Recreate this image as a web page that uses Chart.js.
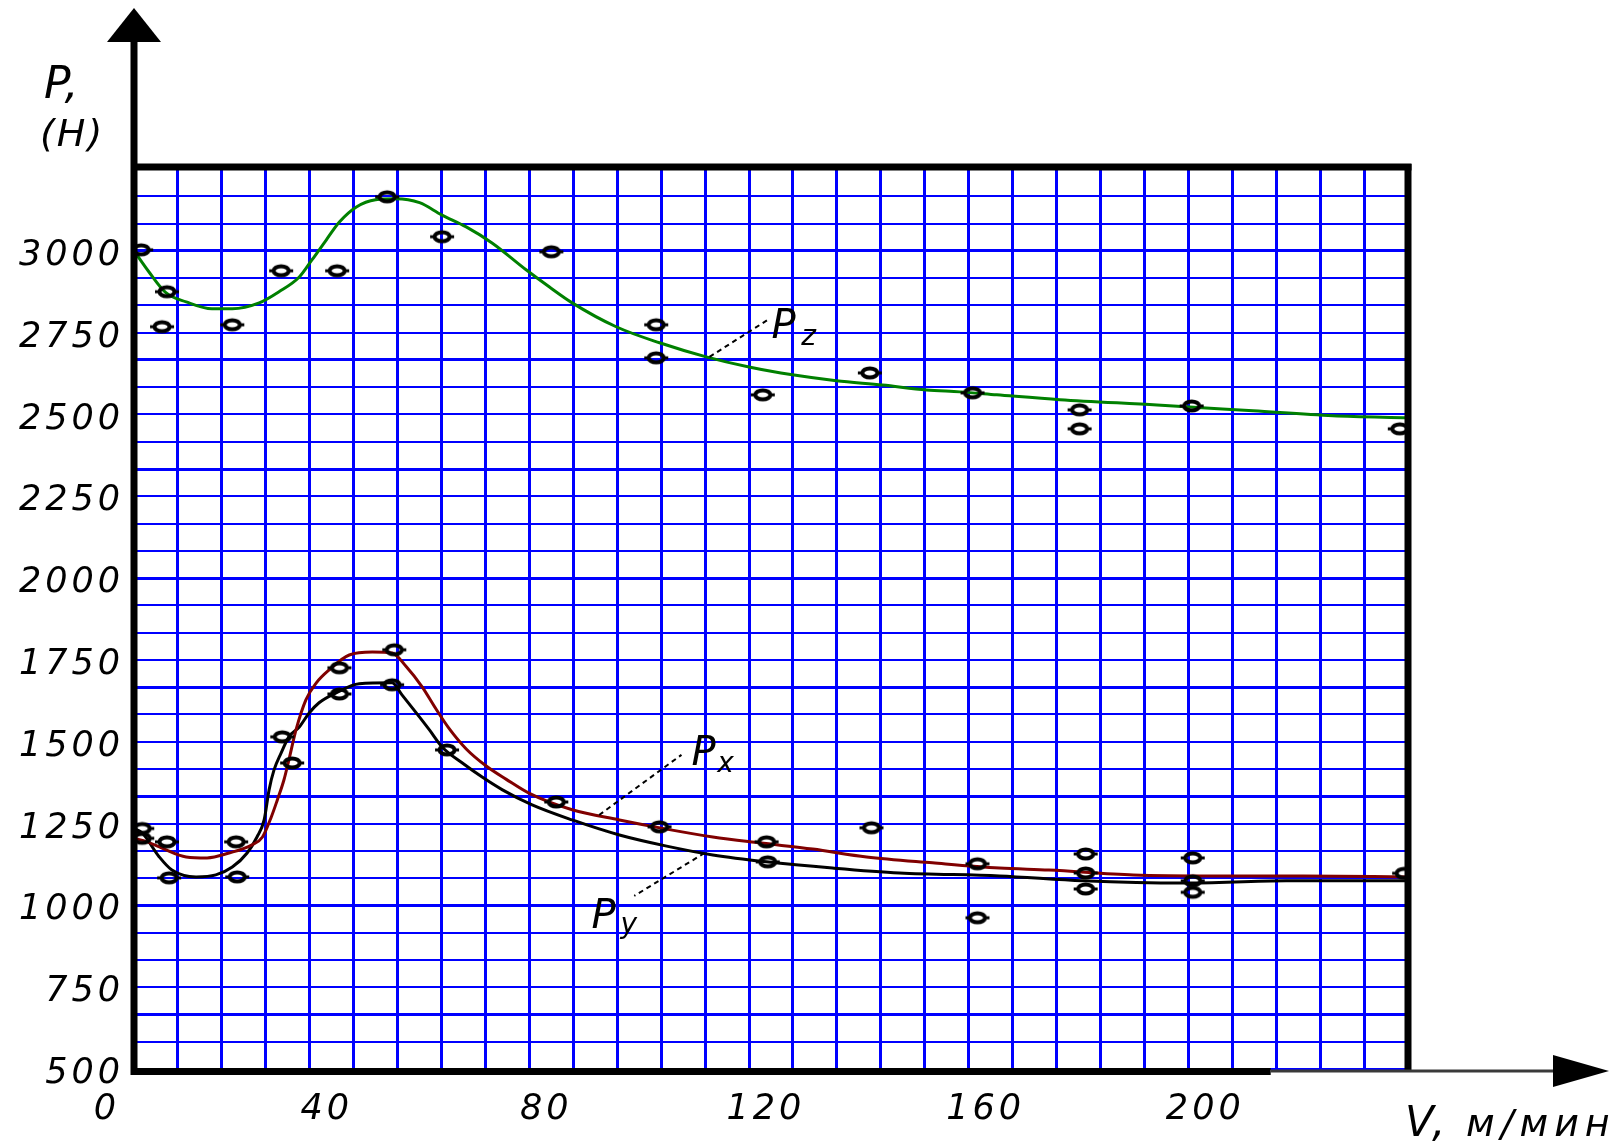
<!DOCTYPE html>
<html>
<head>
<meta charset="utf-8">
<script src="https://cdn.jsdelivr.net/npm/chart.js@4.4.0/dist/chart.umd.min.js"></script>
<style>
html, body { margin: 0; padding: 0; background: #fff; }
#wrap { width: 1622px; height: 1144px; position: relative; }
</style>
</head>
<body>
<div id="wrap"><canvas id="grafik"></canvas></div>
<script>
// Pz (зелёная кривая): скорость V, м/мин и сила, Н
const vPz = [0, 2.7, 5.8, 9.5, 14.2, 17.9, 22.8, 26.4, 30.1, 32.4, 35, 37.4, 40.5, 44, 47.7, 52, 56, 60.5, 65.2, 71.4, 75.6, 79.8, 87.8, 95.7, 104.2, 112, 119.9, 127.9, 136.3, 144.3, 150.4, 157.1, 168.6, 186.3, 203.8, 218.3, 232];
const pPz = [3000, 2936, 2872, 2844, 2823, 2823, 2841, 2875, 2920, 2972, 3033, 3088, 3134, 3156, 3159, 3147, 3110, 3073, 3024, 2942, 2890, 2841, 2768, 2719, 2676, 2645, 2621, 2603, 2590, 2575, 2569, 2560, 2545, 2529, 2511, 2496, 2490];

// Px (тёмно-красная кривая)
const vPx = [0, 2.4, 5.1, 9.5, 13.3, 17.3, 21.5, 23.4, 25, 26.1, 27.3, 28.2, 29.5, 31.3, 33.2, 35.5, 39.2, 43.4, 47, 49.6, 52.5, 55, 57.4, 60.5, 64.2, 67.8, 72, 79.8, 88.4, 97, 105.4, 113.9, 123.6, 133.4, 145.4, 157.6, 166.6, 182, 197.4, 212.9, 232];
const pPx = [1205, 1194, 1175, 1148, 1145, 1160, 1185, 1209, 1270, 1322, 1383, 1444, 1536, 1628, 1680, 1719, 1765, 1774, 1771, 1729, 1667, 1600, 1540, 1478, 1425, 1385, 1342, 1292, 1261, 1233, 1209, 1191, 1172, 1148, 1130, 1114, 1108, 1093, 1090, 1090, 1087];

// Py (чёрная кривая)
const vPy = [0, 1.5, 4.6, 6.9, 11.3, 14.9, 17.9, 20.6, 22.4, 23.7, 24.6, 25.5, 26.8, 28.2, 30.1, 31.9, 33.7, 36.8, 41, 47, 48.8, 51.4, 53.8, 56.1, 59.8, 63.4, 67.1, 72.5, 79.8, 88.4, 97, 105.4, 115.2, 127.2, 139.4, 157.6, 172.8, 191.2, 209.8, 232];
const pPy = [1235, 1221, 1148, 1108, 1087, 1093, 1117, 1160, 1209, 1261, 1353, 1414, 1466, 1515, 1545, 1588, 1619, 1649, 1677, 1680, 1643, 1588, 1536, 1484, 1435, 1392, 1353, 1307, 1261, 1215, 1181, 1154, 1133, 1114, 1099, 1090, 1075, 1068, 1075, 1075];

// опытные точки
const vTochki = [1.3, 6, 5.1, 17.9, 26.8, 37, 46.1, 56.1, 76, 95.1, 95.1, 114.5, 134, 152.7, 172.2, 172.2, 192.6, 230.5,
                 1.5, 1.5, 6, 6.4, 18.6, 18.8, 27, 28.8, 37.4, 37.4, 47.4, 47, 57, 76.9, 95.7, 115.2, 115.4, 134.3, 153.6, 153.6, 173.3, 173.3, 173.3, 192.8, 192.8, 192.8, 231.3];
const pTochki = [3003, 2875, 2768, 2774, 2939, 2939, 3165, 3043, 2997, 2774, 2673, 2560, 2627, 2566, 2514, 2456, 2526, 2456,
                 1235, 1205, 1194, 1084, 1194, 1087, 1515, 1435, 1726, 1646, 1781, 1674, 1475, 1316, 1240, 1194, 1133, 1237, 1127, 962, 1157, 1099, 1050, 1145, 1075, 1040, 1098];

const xTicks = [0, 40, 80, 120, 160, 200];
const yTicks = [500, 750, 1000, 1250, 1500, 1750, 2000, 2250, 2500, 2750, 3000];

function pary(xs, ys) {
    return xs.map((x, i) => ({ x: x, y: ys[i] }));
}

// маркер точки - полый эллипс
const marker = document.createElement('canvas');
marker.width = 26;
marker.height = 16;
(function () {
    const c = marker.getContext('2d');
    c.strokeStyle = '#000';
    c.lineWidth = 4;
    c.beginPath();
    c.ellipse(13, 8, 7.5, 4.5, 0, 0, Math.PI * 2);
    c.stroke();
    c.lineWidth = 3;
    c.beginPath();
    c.moveTo(1, 8); c.lineTo(5, 8);
    c.moveTo(21, 8); c.lineTo(25, 8);
    c.stroke();
})();

const shrift = { family: 'DejaVu Sans', size: 35, style: 'italic', weight: '200' };

function liniya(ctx, x1, y1, x2, y2) {
    ctx.beginPath();
    ctx.moveTo(x1, y1);
    ctx.lineTo(x2, y2);
    ctx.stroke();
}

// рамка, стрелки осей и подписи
const oformlenie = {
    id: 'oformlenie',
    beforeDraw(chart) {
        chart.ctx.letterSpacing = '4px';
    },
    afterDraw(chart) {
        const { ctx, chartArea: a, scales } = chart;
        const px = v => scales.x.getPixelForValue(v);
        const py = p => scales.y.getPixelForValue(p);
        ctx.save();
        ctx.strokeStyle = '#000';
        ctx.fillStyle = '#000';
        ctx.lineWidth = 7;
        liniya(ctx, a.left, a.bottom + 6, a.left, 42);
        liniya(ctx, a.left - 3, a.top - 2, a.right + 3.5, a.top - 2);
        liniya(ctx, a.right, a.top - 5, a.right, a.bottom + 2);
        const xKonec = px(207);
        liniya(ctx, a.left - 3, a.bottom + 2.5, xKonec, a.bottom + 2.5);
        ctx.lineWidth = 3;
        ctx.strokeStyle = '#3a3a3a';
        liniya(ctx, xKonec, a.bottom + 2, 1556, a.bottom + 2);

        // стрелки
        ctx.beginPath();
        ctx.moveTo(a.left, 8);
        ctx.lineTo(a.left - 27, 42);
        ctx.lineTo(a.left + 27, 42);
        ctx.closePath();
        ctx.fill();
        ctx.beginPath();
        ctx.moveTo(1609, a.bottom + 2);
        ctx.lineTo(1553, a.bottom - 14);
        ctx.lineTo(1553, a.bottom + 18);
        ctx.closePath();
        ctx.fill();

        // выноски кривых
        ctx.strokeStyle = '#000';
        ctx.lineWidth = 2;
        ctx.setLineDash([5, 4]);
        liniya(ctx, px(104.8), py(2676), px(115.7), py(2792));
        liniya(ctx, px(84.7), py(1276), px(99.7), py(1460));
        liniya(ctx, px(103.9), py(1160), px(91.1), py(1029));
        ctx.setLineDash([]);

        ctx.letterSpacing = '0px';
        ctx.textBaseline = 'alphabetic';
        ctx.textAlign = 'left';
        const bukva = (t, v, p, r) => {
            ctx.font = 'italic 200 ' + r + 'px "DejaVu Sans"';
            ctx.fillText(t, px(v), py(p));
        };
        bukva('P', 116.1, 2734, 40);
        bukva('z', 121.5, 2713, 28);
        bukva('P', 101.5, 1429, 40);
        bukva('x', 106.2, 1408, 28);
        bukva('P', 83.3, 931, 40);
        bukva('y', 88.6, 916, 28);

        // названия осей
        ctx.font = 'italic 200 44px "DejaVu Sans"';
        ctx.fillText('P,', 44, 98);
        ctx.letterSpacing = '2px';
        ctx.font = 'italic 200 38px "DejaVu Sans"';
        ctx.fillText('(Н)', 40, 146);
        ctx.letterSpacing = '3px';
        ctx.font = 'italic 200 42px "DejaVu Sans"';
        ctx.fillText('V,', 1405, 1136);
        ctx.letterSpacing = '6px';
        ctx.font = 'italic 200 38px "DejaVu Sans"';
        ctx.fillText('м/мин', 1466, 1136);
        ctx.restore();
    }
};

new Chart(document.getElementById('grafik'), {
    type: 'scatter',
    data: {
        datasets: [
            {
                label: 'опыт',
                data: pary(vTochki, pTochki),
                pointStyle: marker,
                pointRadius: 8,
                showLine: false
            },
            {
                label: 'Pz',
                data: pary(vPz, pPz),
                showLine: true,
                borderColor: '#008000',
                borderWidth: 3,
                pointRadius: 0,
                cubicInterpolationMode: 'monotone'
            },
            {
                label: 'Px',
                data: pary(vPx, pPx),
                showLine: true,
                borderColor: '#800000',
                borderWidth: 3,
                pointRadius: 0,
                cubicInterpolationMode: 'monotone'
            },
            {
                label: 'Py',
                data: pary(vPy, pPy),
                showLine: true,
                borderColor: '#000000',
                borderWidth: 3,
                pointRadius: 0,
                cubicInterpolationMode: 'monotone'
            }
        ]
    },
    options: {
        responsive: true,
        maintainAspectRatio: false,
        animation: false,
        layout: { padding: { left: 0, top: 169, right: 214, bottom: 0 } },
        plugins: {
            legend: { display: false },
            tooltip: { enabled: false }
        },
        scales: {
            x: {
                type: 'linear',
                min: 0,
                max: 232,
                afterFit: s => { s.height = 75; },
                border: { display: false },
                grid: { color: '#0000ff', lineWidth: 3, drawTicks: false },
                ticks: {
                    stepSize: 8,
                    autoSkip: false,
                    maxRotation: 0,
                    padding: 20,
                    labelOffset: -27,
                    color: '#000',
                    font: shrift,
                    callback: v => (xTicks.includes(v) ? String(v) : '')
                }
            },
            y: {
                type: 'linear',
                min: 500,
                max: 3250,
                afterFit: s => { s.width = 134; },
                border: { display: false },
                grid: {
                    color: '#0000ff',
                    lineWidth: c => (c.index % 4 === 2 ? 3 : 2),
                    drawTicks: false
                },
                ticks: {
                    stepSize: 250 / 3,
                    autoSkip: false,
                    padding: 10,
                    labelOffset: 5,
                    color: '#000',
                    font: shrift,
                    callback: v => {
                        const r = Math.round(v);
                        return (Math.abs(v - r) < 0.01 && yTicks.includes(r)) ? String(r) : '';
                    }
                }
            }
        }
    },
    plugins: [oformlenie]
});
</script>
</body>
</html>
